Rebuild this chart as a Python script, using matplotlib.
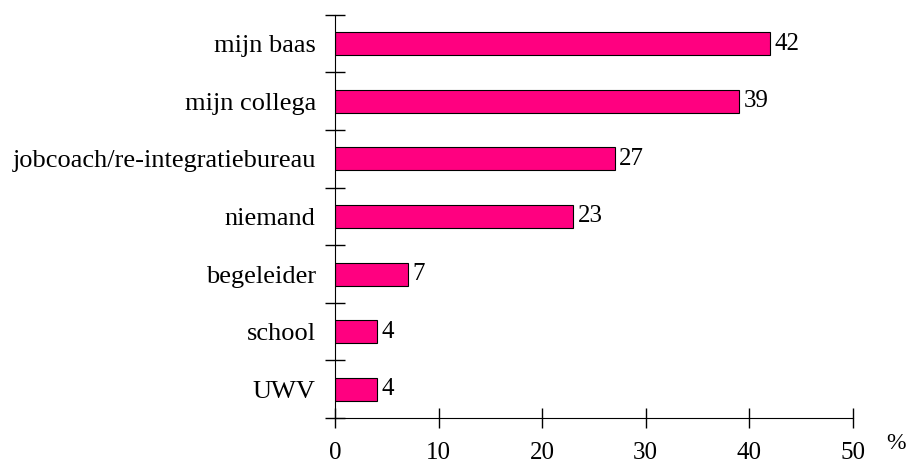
import matplotlib.pyplot as plt
import numpy as np

categories = ["mijn baas", "mijn collega", "jobcoach/re-integratiebureau",
              "niemand", "begeleider", "school", "UWV"]
values = [42, 39, 27, 23, 7, 4, 4]
xticks = [0, 10, 20, 30, 40, 50]

plt.rcParams['font.family'] = ['Liberation Serif', 'DejaVu Serif']

fig = plt.figure(figsize=(9.11, 4.66), dpi=100)
ax = fig.add_axes([0.368, 0.103, 0.568, 0.865])

n = len(categories)
ypos = np.arange(n)[::-1] + 0.5
ax.barh(ypos, values, height=0.4, color='#FF0080', edgecolor='black', linewidth=0.8)

# value labels just right of each bar
for y, v in zip(ypos, values):
    ax.text(v + 0.45, y, str(v), va='center', ha='left', fontsize=18)

ax.set_xlim(0, 50)
ax.set_ylim(0, n)
ax.set_xticks(xticks)
ax.set_xticklabels([str(t) for t in xticks], fontsize=18)
# major ticks on category boundaries, labels on minor ticks in between
ax.set_yticks(np.arange(n + 1))
ax.set_yticklabels([])
ax.set_yticks(ypos, minor=True)
ax.set_yticklabels(categories, minor=True, fontsize=19)
ax.tick_params(axis='y', which='minor', length=0, pad=14)
ax.tick_params(axis='y', which='major', direction='inout', length=15, width=1)
ax.tick_params(axis='x', direction='inout', length=15, width=1, pad=10)

for s in ['top', 'right']:
    ax.spines[s].set_visible(False)

ax.text(1.083, -0.063, '%', transform=ax.transAxes, fontsize=17, ha='center', va='center')

fig.savefig('out.png', dpi=100)
